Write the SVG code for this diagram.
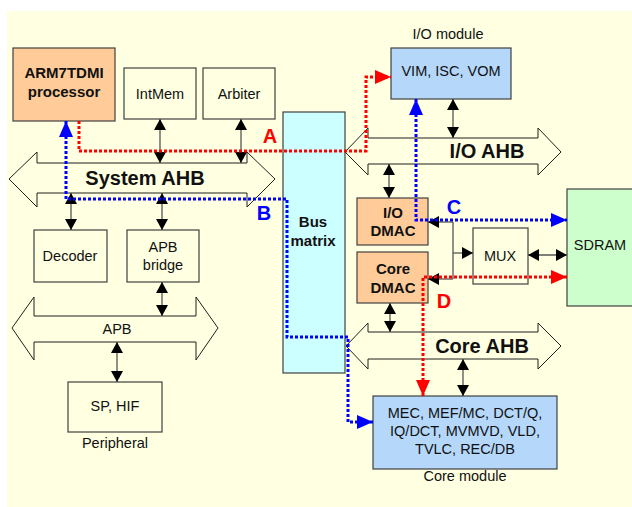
<svg xmlns="http://www.w3.org/2000/svg" width="632" height="507" viewBox="0 0 632 507">
<defs>
<style>
.box{stroke:#404040;stroke-width:1.2}
.plain{fill:#FFFFE1}
.peach{fill:#FFCC99}
.blue{fill:#B4D7FA}
.bus{fill:#FFFFE1;stroke:#202020;stroke-width:1}
text{font-family:"Liberation Sans",Arial,sans-serif;fill:#111;text-anchor:middle}
.t{font-size:14.5px}
.b{font-size:15px;font-weight:bold}
.big{font-size:20px;font-weight:bold}
.lbl{font-size:20px;font-weight:bold}
.conn{stroke:#555;stroke-width:1.3;fill:none;marker-start:url(#ah);marker-end:url(#ah)}
.one{stroke:#555;stroke-width:1.3;fill:none;marker-end:url(#ah)}
.red{stroke:#FF0000;stroke-width:3;stroke-dasharray:3 2;fill:none}
.blu{stroke:#0000FF;stroke-width:3;stroke-dasharray:3 2;fill:none}
</style>
<marker id="ah" markerUnits="userSpaceOnUse" markerWidth="11" markerHeight="12" viewBox="0 0 11 12" refX="11" refY="6" orient="auto-start-reverse"><path d="M0,0 L11,6 L0,12 z" fill="#000"/></marker>
<marker id="ar" markerUnits="userSpaceOnUse" markerWidth="16" markerHeight="14" viewBox="0 0 16 14" refX="16" refY="7" orient="auto-start-reverse"><path d="M0,0 L16,7 L0,14 z" fill="#FF0000"/></marker>
<marker id="ab" markerUnits="userSpaceOnUse" markerWidth="16" markerHeight="14" viewBox="0 0 16 14" refX="16" refY="7" orient="auto-start-reverse"><path d="M0,0 L16,7 L0,14 z" fill="#0000FF"/></marker>
</defs>
<rect x="0" y="0" width="632" height="507" fill="#FFFFFF"/>
<rect x="7" y="11" width="625" height="496" fill="#FFFFE1"/>

<g id="busmatrix"><rect class="box" x="283" y="112" width="62" height="261" fill="#CCFFFF"/><text class="b" x="313" y="227">Bus</text><text class="b" x="313" y="246">matrix</text></g>

<g id="systemahb"><polygon class="bus" points="9,179 37,152 37,163 247,163 247,152 275,179 247,207 247,193 37,193 37,207"/><text class="big" x="145" y="185">System AHB</text></g>
<g id="ioahb"><polygon class="bus" points="345,152 368,128 368,138 538,138 538,128 561,152 538,175 538,164 368,164 368,175"/><text class="big" x="487" y="158">I/O AHB</text></g>
<g id="coreahb"><polygon class="bus" points="346,346 368,323 368,332 538,332 538,323 561,346 538,369 538,359 368,359 368,369"/><text class="big" x="482" y="353">Core AHB</text></g>
<g id="apb"><polygon class="bus" points="12,328 34,297 34,316 196,316 196,297 218,328 196,360 196,342 34,342 34,360"/><text class="t" x="117" y="334">APB</text></g>

<g id="arm"><rect class="box peach" x="13" y="48" width="102" height="73"/><text class="b" x="64" y="78">ARM7TDMI</text><text class="b" x="64" y="97">processor</text></g>
<g id="intmem"><rect class="box plain" x="124" y="68" width="72" height="51"/><text class="t" x="160" y="99">IntMem</text></g>
<g id="arbiter"><rect class="box plain" x="203" y="68" width="72" height="51"/><text class="t" x="239" y="99">Arbiter</text></g>
<g id="decoder"><rect class="box plain" x="34" y="230" width="73" height="52"/><text class="t" x="70" y="261">Decoder</text></g>
<g id="apbbridge"><rect class="box plain" x="127" y="230" width="72" height="52"/><text class="t" x="163" y="252">APB</text><text class="t" x="163" y="270">bridge</text></g>
<g id="peripheral"><rect class="box plain" x="68" y="382" width="94" height="50"/><text class="t" x="115" y="411">SP, HIF</text><text class="t" x="115" y="448">Peripheral</text></g>
<g id="iomodule"><text class="t" x="448" y="39">I/O module</text><rect class="box blue" x="391" y="48" width="120" height="51"/><text class="t" x="451" y="76">VIM, ISC, VOM</text></g>
<g id="iodmac"><rect class="box peach" x="357" y="198" width="71" height="47"/><text class="b" x="393" y="218">I/O</text><text class="b" x="393" y="236">DMAC</text></g>
<g id="coredmac"><rect class="box peach" x="357" y="252" width="71" height="51"/><text class="b" x="393" y="274">Core</text><text class="b" x="393" y="293">DMAC</text></g>
<g id="mux"><rect class="box plain" x="473" y="228" width="55" height="56"/><text class="t" x="500" y="261">MUX</text></g>
<g id="sdram"><rect class="box" x="567" y="189" width="80" height="117" fill="#CCFFCC"/><text class="t" x="600" y="250">SDRAM</text></g>
<g id="coremodule"><rect class="box blue" x="373" y="396" width="184" height="73"/><text class="t" x="465" y="418">MEC, MEF/MC, DCT/Q,</text><text class="t" x="465" y="436">IQ/DCT, MVMVD, VLD,</text><text class="t" x="465" y="454">TVLC, REC/DB</text><text class="t" x="465" y="481">Core module</text></g>

<g id="connectors">
<path class="conn" d="M160,119 V163"/>
<path class="conn" d="M241,119 V163"/>
<path class="conn" d="M71,193 V230"/>
<path class="conn" d="M162,193 V230"/>
<path class="conn" d="M162,282 V316"/>
<path class="conn" d="M117,342 V382"/>
<path class="conn" d="M453,99 V138"/>
<path class="conn" d="M389,164 V198"/>
<path class="conn" d="M390,303 V332"/>
<path class="conn" d="M463,359 V396"/>
<path class="conn" d="M528,255 H567"/>
<path class="one" d="M453,222 H428"/>
<path class="one" d="M453,279 H428"/>
<path class="one" d="M453,253 H473"/>
<path d="M453,222 V279" stroke="#555" stroke-width="1.3" fill="none"/>
<path class="red" d="M79,121 V151 H366 V77 H391" marker-end="url(#ar)"/>
<path class="blu" d="M66,121 V199 H287 V337 H348 V422 H373" marker-start="url(#ab)" marker-end="url(#ab)"/>
<path class="blu" d="M416,99 V220 H567" marker-start="url(#ab)" marker-end="url(#ab)"/>
<path class="red" d="M423,396 V277 H567" marker-start="url(#ar)" marker-end="url(#ar)"/>
<text class="lbl" x="270" y="143" fill="#FF0000" style="fill:#FF0000">A</text>
<text class="lbl" x="264" y="220" style="fill:#0000FF">B</text>
<text class="lbl" x="454" y="214" style="fill:#0000FF">C</text>
<text class="lbl" x="444" y="308" style="fill:#FF0000">D</text>
</g>
</svg>
